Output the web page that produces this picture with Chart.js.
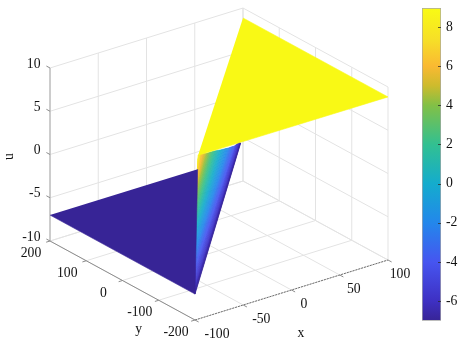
<!DOCTYPE html>
<html><head><meta charset="utf-8">
<script src="https://cdn.jsdelivr.net/npm/chart.js@4/dist/chart.umd.min.js"></script>
<style>
html,body{margin:0;padding:0;background:#fff;width:462px;height:347px;overflow:hidden}
canvas{position:absolute;top:0;filter:blur(.4px)}
#plot{left:0}
#bar{left:422px}
</style></head><body>
<canvas id="plot" width="462" height="347"></canvas>
<canvas id="bar" width="40" height="347"></canvas>
<script>
// axis ticks
const xTicks = [-100, -50, 0, 50, 100];
const yTicks = [-200, -100, 0, 100, 200];
const uTicks = [-10, -5, 0, 5, 10];
const barTicks = [-6, -4, -2, 0, 2, 4, 6, 8];
const barRange = [-7, 8.97];

// lower flat sheet
const lowX = [-100, -100, 53];
const lowY = [200, -200, 200];
const lowU = [-7, -7, -7];
// upper flat sheet
const highX = [100, 100, -96];
const highY = [200, -200, -198];
const highU = [8.85, 8.85, 8.85];
// steep sheet: contours of u, each from one end point to another
const fanU = [8.85, 6, 4, 2, 0, -2, -4, -6, -7];
const fanFarX = [-96, -62, -36, -9, 18, 46, 74, 102, 113];
const fanFarY = [-198, -118, -65, -9, 44, 98, 154, 216, 241];
const fanNearX = [-96, -98, -100, -100, -100, -100, -100, -100, -100];
const fanNearY = [-198, -200, -200, -200, -200, -200, -200, -200, -200];

// colour map
const mapU = [-7, -6, -4, -2, 0, 2, 4, 5, 6, 7.3, 8.97];
const mapRGB = [[55,36,150],[62,48,195],[70,85,240],[35,135,235],[20,172,205],[50,192,145],[130,192,70],[205,187,45],[250,185,50],[246,222,40],[249,251,20]];

// view of the box on the page
const VIEW = {ox:50, oy:241, sx:145, sy:79, tx:193, ty:-60, uScale:8.65};
function project(x, y, u){
  const s = (200 - y) / 400, t = (x + 100) / 200;
  return {x: VIEW.ox + VIEW.sx*s + VIEW.tx*t,
          y: VIEW.oy + VIEW.sy*s + VIEW.ty*t - (u + 10)*VIEW.uScale};
}
function mapColor(u){
  let i = 0;
  while(i < mapU.length-2 && u > mapU[i+1]) i++;
  const k = Math.min(1, Math.max(0, (u-mapU[i])/(mapU[i+1]-mapU[i])));
  const c = mapRGB[i].map((v,n)=>Math.round(v+(mapRGB[i+1][n]-v)*k));
  return `rgb(${c[0]},${c[1]},${c[2]})`;
}

const layers = [];
function line(pts, color, width, dash){
  layers.push({data:pts, borderColor:color, borderWidth:width, borderDash:dash||[], fill:false});
}
function poly(pts, color){
  layers.push({data:pts, borderColor:color, borderWidth:0.6, backgroundColor:color, fill:'shape'});
}
const GRID = '#e3e3e3', AXIS = '#8c8c8c';
// walls and floor
uTicks.forEach(u=>{
  line([project(-100,200,u),project(100,200,u)],GRID,1);
  line([project(100,200,u),project(100,-200,u)],GRID,1);
});
xTicks.forEach(x=>{
  line([project(x,200,-10),project(x,200,10)],GRID,1);
  line([project(x,200,-10),project(x,-200,-10)],GRID,1);
});
yTicks.forEach(y=>{
  line([project(100,y,-10),project(100,y,10)],GRID,1);
  line([project(-100,y,-10),project(100,y,-10)],GRID,1);
});
// axes with tick marks
line([project(-100,200,-10),project(-100,200,10)],'#a8a8a8',1);
line([project(-100,200,-10),project(-100,-200,-10)],AXIS,1);
line([project(-100,-200,-10),project(100,-200,-10)],'#6e6e6e',1,[2,1]);
uTicks.forEach(u=>line([project(-100,200,u),project(-100,210,u)],AXIS,1));
yTicks.forEach(y=>line([project(-100,y,-10),project(-104,y,-10)],AXIS,1));
xTicks.forEach(x=>line([project(x,-200,-10),project(x,-210,-10)],AXIS,1));
// surface, back to front
const FINE = 8;
for(let i=fanU.length-2;i>=0;i--){
  for(let j=0;j<FINE;j++){
    const a=j/FINE,b=(j+1)/FINE;
    const at=(arr,k)=>arr[i]+(arr[i+1]-arr[i])*k;
    poly([
      project(at(fanNearX,a),at(fanNearY,a),at(fanU,a)),
      project(at(fanNearX,b),at(fanNearY,b),at(fanU,b)),
      project(at(fanFarX,b),at(fanFarY,b),at(fanU,b)),
      project(at(fanFarX,a),at(fanFarY,a),at(fanU,a))
    ], mapColor(at(fanU,(a+b)/2)));
  }
}
poly(lowX.map((x,i)=>project(x,lowY[i],lowU[i])), mapColor(lowU[0]));
poly(highX.map((x,i)=>project(x,highY[i],highU[i])), mapColor(highU[0]));

const FONT = '13.7px "Liberation Serif"';
const xNudge = {'-100':7, '-50':3, '0':-2.5, '50':-1, '100':-3};
const texts = {
  id:'texts',
  afterDraw(chart){
    const scX=chart.scales.x, scY=chart.scales.y, c=chart.ctx;
    const put=(str,p,dx,dy,rot)=>{
      c.save();
      c.translate(scX.getPixelForValue(p.x)+dx, scY.getPixelForValue(p.y)+dy);
      if(rot) c.rotate(rot);
      c.fillText(str,0,0);
      c.restore();
    };
    c.save();
    c.font=FONT; c.fillStyle='#111'; c.textBaseline='middle';
    c.textAlign='right';
    uTicks.forEach(u=>put(String(u),project(-100,200,u),-9.5,-4));
    c.textAlign='center';
    yTicks.forEach(y=>put(String(y),project(-100,y,-10),-19,12.5));
    xTicks.forEach(x=>put(String(x),project(x,-200,-10),15+(xNudge[x]||0),14.5));
    put('y',project(-100,-75,-10),-11,34);
    put('x',project(0,-200,-10),9.5,43);
    put('u',project(-100,200,0),-41,2,-Math.PI/2);
    c.restore();
  }
};
new Chart(document.getElementById('plot'),{
  type:'scatter',
  data:{datasets:layers.map((d,i)=>Object.assign({showLine:true,pointRadius:0,pointHoverRadius:0,tension:0,order:-i,clip:false},d))},
  options:{responsive:false,animation:false,events:[],
    layout:{padding:0},
    plugins:{legend:{display:false},tooltip:{enabled:false},title:{display:false}},
    scales:{x:{type:'linear',min:0,max:462,display:false},y:{type:'linear',min:0,max:347,reverse:true,display:false}}},
  plugins:[texts]
});

const barMarks = {
  id:'barMarks',
  afterDatasetsDraw(chart){
    const s=chart.scales.y, a=chart.chartArea, c=chart.ctx;
    c.save(); c.strokeStyle='rgba(40,40,40,.75)'; c.lineWidth=1;
    barTicks.forEach(v=>{const p=Math.round(s.getPixelForValue(v))+.5;
      c.beginPath(); c.moveTo(a.right-3,p); c.lineTo(a.right,p); c.stroke();});
    c.restore();
  }
};
new Chart(document.getElementById('bar'),{
  type:'bar',
  data:{labels:['u'],datasets:[{data:[barRange],barPercentage:1,categoryPercentage:1,
    borderWidth:1,borderColor:'rgba(130,130,130,.7)',borderSkipped:false,
    backgroundColor(ctx){
      const ch=ctx.chart; if(!ch.chartArea) return '#888';
      const s=ch.scales.y;
      const g=ch.ctx.createLinearGradient(0,s.getPixelForValue(barRange[0]),0,s.getPixelForValue(barRange[1]));
      mapU.forEach((u,i)=>{const c=mapRGB[i];g.addColorStop((u-barRange[0])/(barRange[1]-barRange[0]),`rgb(${c[0]},${c[1]},${c[2]})`);});
      return g;
    }}]},
  options:{responsive:false,animation:false,events:[],
    layout:{padding:{top:8,bottom:26.3,left:0,right:0}},
    plugins:{legend:{display:false},tooltip:{enabled:false}},
    scales:{
      x:{display:false,offset:true},
      y:{position:'right',min:barRange[0],max:barRange[1],
        afterBuildTicks(s){s.ticks=barTicks.map(v=>({value:v}));},
        afterFit(s){s.width=21;s.paddingTop=0;s.paddingBottom=0;},
        grid:{display:false,drawTicks:false,tickLength:0},border:{display:false},
        ticks:{padding:5,font:{family:'"Liberation Serif"',size:13.7},color:'#111',autoSkip:false,maxRotation:0}}
    }},
  plugins:[barMarks]
});
</script>
</body></html>
